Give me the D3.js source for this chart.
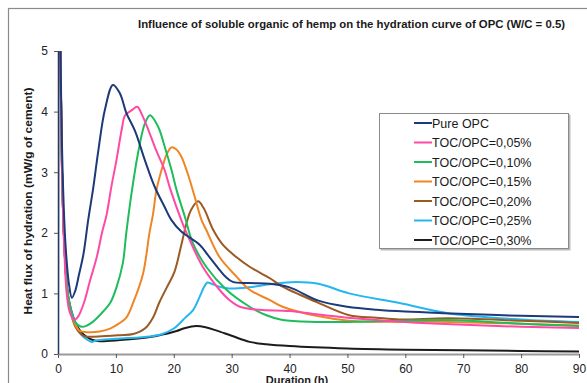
<!DOCTYPE html>
<html>
<head>
	<meta charset="utf-8">
	<script src="https://d3js.org/d3.v7.min.js"></script>
	<title>Hydration curve of OPC</title>
	<style>
		body { margin: 0; background: #fff; }
		svg { display: block; font-family: "Liberation Sans", Arial, sans-serif; }
	</style>
</head>
<body>
	<svg></svg>
	<script>
		const width = 587;
		const height = 383;

		// values, [duration (h), heat flux (mW/g)]
		const seriesNames = ["Pure OPC", "TOC/OPC=0,05%", "TOC/OPC=0,10%", "TOC/OPC=0,15%", "TOC/OPC=0,20%", "TOC/OPC=0,25%", "TOC/OPC=0,30%"];
		const xTicks = [0, 10, 20, 30, 40, 50, 60, 70, 80, 90];
		const yTicks = [0, 1, 2, 3, 4, 5];

		const pureOPC = [[0,0],[0.12,8],[0.4,5.2],[0.8,3],[1.3,1.8],[1.9,1.15],[2.4,0.93],[3.0,1.05],[3.6,1.3],[4.4,1.65],[5.2,2.2],[6.1,2.75],[6.9,3.31],[8.1,4.03],[9.5,4.44],[10.7,4.3],[11.8,3.98],[13.3,3.68],[15,3.2],[16.7,2.76],[18.4,2.43],[19.6,2.21],[21.3,2.02],[24.5,1.8],[26,1.62],[27.9,1.39],[29,1.27],[30.2,1.19],[33,1.17],[36.6,1.16],[40,1.1],[45,0.88],[50,0.78],[55,0.73],[60,0.7],[68,0.67],[80,0.63],[90,0.61]];
		const toc005 = [[0,0],[0.12,8],[0.4,5],[0.7,3],[1.1,1.7],[1.5,1.0],[2.0,0.7],[2.8,0.56],[3.5,0.62],[4.5,0.85],[5.5,1.2],[6.7,1.6],[7.6,2.0],[8.4,2.3],[9.2,2.75],[10.1,3.2],[11.0,3.7],[11.6,3.94],[12.7,4.02],[13.7,4.08],[14.5,3.95],[15.6,3.7],[17,3.35],[18.4,3.04],[19.3,2.75],[21.3,2.21],[22.2,2.0],[25,1.44],[27.9,1.06],[29.5,0.9],[31.4,0.78],[34.8,0.73],[40,0.71],[45,0.65],[50,0.6],[60,0.53],[68,0.49],[80,0.45],[90,0.43]];
		const toc010 = [[0,0],[0.12,8],[0.4,5],[0.7,3],[1.1,1.8],[1.6,1.05],[2.2,0.7],[3.0,0.52],[4.0,0.45],[5.0,0.47],[6,0.53],[7.2,0.64],[9,0.84],[10.1,1.1],[11.2,1.5],[11.8,2.0],[12.7,2.65],[13.8,3.3],[15,3.8],[15.9,3.94],[17.3,3.75],[18.5,3.4],[19.6,3.04],[20.5,2.7],[21.9,2.27],[23.3,1.83],[25.6,1.44],[29.1,1.06],[33.1,0.78],[36,0.64],[38.8,0.56],[44.6,0.53],[50,0.53],[60,0.55],[67.6,0.56],[80,0.5],[90,0.46]];
		const toc015 = [[0,0],[0.12,8],[0.4,5],[0.7,3],[1.1,1.8],[1.6,1.05],[2.2,0.7],[3.0,0.48],[3.8,0.38],[5,0.36],[7.2,0.37],[9,0.42],[10.5,0.5],[11.8,0.6],[13,0.85],[14.7,1.33],[15.8,2.0],[16.4,2.3],[17,2.7],[17.9,3.04],[18.8,3.3],[19.6,3.41],[20.4,3.38],[21.3,3.26],[22.5,2.95],[23.6,2.6],[24.8,2.21],[25.6,2.05],[27.9,1.6],[30.8,1.28],[33.1,1.06],[36.6,0.89],[38.8,0.78],[44.6,0.63],[50.3,0.55],[60,0.53],[67.6,0.53],[80,0.5],[90,0.47]];
		const toc020 = [[0,0],[0.12,8],[0.4,5],[0.7,3],[1.1,1.8],[1.6,1.05],[2.2,0.7],[3.0,0.45],[4.4,0.3],[7,0.29],[10.7,0.31],[13,0.33],[15,0.42],[16.4,0.6],[17.5,0.85],[18.8,1.1],[20.1,1.35],[21.3,1.8],[22.2,2.16],[23,2.38],[24.2,2.52],[25.2,2.4],[26.8,2.05],[28.5,1.8],[30.8,1.6],[33.1,1.44],[36.6,1.25],[38.8,1.11],[44.6,0.86],[50.3,0.64],[55,0.6],[59,0.57],[67.6,0.59],[80,0.55],[90,0.51]];
		const toc025 = [[0,0],[0.12,8],[0.4,5],[0.7,3],[1.1,1.8],[1.6,1.05],[2.2,0.75],[3.0,0.5],[4,0.32],[5,0.24],[5.8,0.2],[6.5,0.22],[10,0.25],[15.9,0.29],[18,0.33],[20,0.42],[22,0.6],[23.3,0.72],[24.5,0.95],[25.2,1.1],[25.8,1.18],[26.5,1.16],[27.9,1.11],[29.6,1.08],[33,1.1],[36.6,1.15],[41,1.19],[45,1.16],[50.3,1.0],[59,0.84],[67.6,0.67],[80,0.57],[90,0.53]];
		const toc030 = [[0,0],[0.12,8],[0.4,5],[0.7,3],[1.1,1.8],[1.6,1.05],[2.2,0.75],[3.0,0.52],[4,0.36],[5,0.28],[6,0.23],[7.2,0.21],[10.7,0.23],[15.9,0.28],[18,0.32],[20.5,0.38],[22,0.43],[23.9,0.46],[25.5,0.44],[27.3,0.39],[30,0.3],[33.1,0.2],[36,0.16],[40,0.13],[50,0.09],[60,0.07],[70,0.06],[80,0.05],[90,0.04]];

		const allSeries = [pureOPC, toc005, toc010, toc015, toc020, toc025, toc030];
		const colors = ["#1d3a78", "#ff4aa5", "#1ebd5c", "#f08526", "#9a5a22", "#26b6ef", "#1c1c1c"];

		const margin = {top: 51, right: 8, bottom: 29, left: 58};

		const svg = d3.select("svg")
			.attr("width", width)
			.attr("height", height);

		// outer frame
		svg.append("rect")
			.attr("x", 8.5)
			.attr("y", 8.5)
			.attr("width", width + 10)
			.attr("height", height + 10)
			.attr("fill", "#fff")
			.attr("stroke", "#8a8a8a")
			.attr("stroke-width", 1.2);

		const x = d3.scaleLinear()
			.domain([0, 90])
			.range([margin.left, width - margin.right]);

		const y = d3.scaleLinear()
			.domain([0, 5])
			.range([height - margin.bottom, margin.top]);

		svg.append("defs").append("clipPath")
			.attr("id", "plot")
			.append("rect")
			.attr("x", x(0))
			.attr("y", y(5))
			.attr("width", x(90) - x(0) + 2)
			.attr("height", y(0) - y(5));

		const xAxis = svg.append("g")
			.attr("transform", `translate(0,${y(0)})`)
			.call(d3.axisBottom(x).tickValues(xTicks).tickSize(4).tickPadding(6).tickSizeOuter(0));

		const yAxis = svg.append("g")
			.attr("transform", `translate(${x(0)},0)`)
			.call(d3.axisLeft(y).tickValues(yTicks).tickFormat(d3.format("d")).tickSize(4).tickPadding(6).tickSizeOuter(0));

		[xAxis, yAxis].forEach(g => {
			g.select(".domain").attr("stroke", "#9a9a9a").attr("stroke-width", 2);
			g.selectAll(".tick line").attr("stroke", "#555");
			g.selectAll(".tick text")
				.attr("fill", "#222")
				.style("font-size", "12px")
				.style("font-family", "'Liberation Sans', Arial, sans-serif");
		});

		const line = d3.line()
			.x(d => x(d[0]))
			.y(d => y(d[1]))
			.curve(d3.curveCatmullRom.alpha(0.5));

		// draw back to front so that the pure OPC curve lies on top like the original
		svg.append("g")
			.attr("clip-path", "url(#plot)")
			.selectAll("path")
			.data(allSeries.map((s, i) => ({s, i})).reverse())
			.join("path")
			.attr("d", d => line(d.s))
			.attr("fill", "none")
			.attr("stroke", d => colors[d.i])
			.attr("stroke-width", 2)
			.attr("stroke-linejoin", "round");

		// titles
		svg.append("text")
			.attr("x", 138)
			.attr("y", 28)
			.attr("textLength", 427)
			.attr("lengthAdjust", "spacingAndGlyphs")
			.attr("font-weight", "bold")
			.attr("font-size", 11)
			.attr("fill", "#1a1a1a")
			.text("Influence of soluble organic of hemp on the hydration curve of OPC (W/C = 0.5)");

		svg.append("text")
			.attr("transform", "translate(32,201) rotate(-90)")
			.attr("text-anchor", "middle")
			.attr("textLength", 227)
			.attr("lengthAdjust", "spacingAndGlyphs")
			.attr("font-weight", "bold")
			.attr("font-size", 11)
			.attr("fill", "#1a1a1a")
			.text("Heat flux of hydration (mW/g of cement)");

		svg.append("text")
			.attr("x", 297)
			.attr("y", 384)
			.attr("text-anchor", "middle")
			.attr("font-weight", "bold")
			.attr("font-size", 11)
			.attr("fill", "#1a1a1a")
			.text("Duration (h)");

		// legend
		const legend = svg.append("g").attr("transform", "translate(379,113)");

		legend.append("rect")
			.attr("x", 1.5)
			.attr("y", 1.5)
			.attr("width", 190)
			.attr("height", 136)
			.attr("fill", "#bbb");

		legend.append("rect")
			.attr("x", 0.5)
			.attr("y", 0.5)
			.attr("width", 189)
			.attr("height", 135)
			.attr("fill", "#fff")
			.attr("stroke", "#8a8a8a");

		const item = legend.selectAll("g.item")
			.data(seriesNames)
			.join("g")
			.attr("class", "item")
			.attr("transform", (d, i) => `translate(0,${10 + i * 19.5})`);

		item.append("line")
			.attr("x1", 35)
			.attr("x2", 53)
			.attr("stroke", (d, i) => colors[i])
			.attr("stroke-width", 2);

		item.append("text")
			.attr("x", 53)
			.attr("dy", "0.36em")
			.attr("font-size", 12.5)
			.attr("fill", "#1a1a1a")
			.text(d => d);
	</script>
</body>
</html>
